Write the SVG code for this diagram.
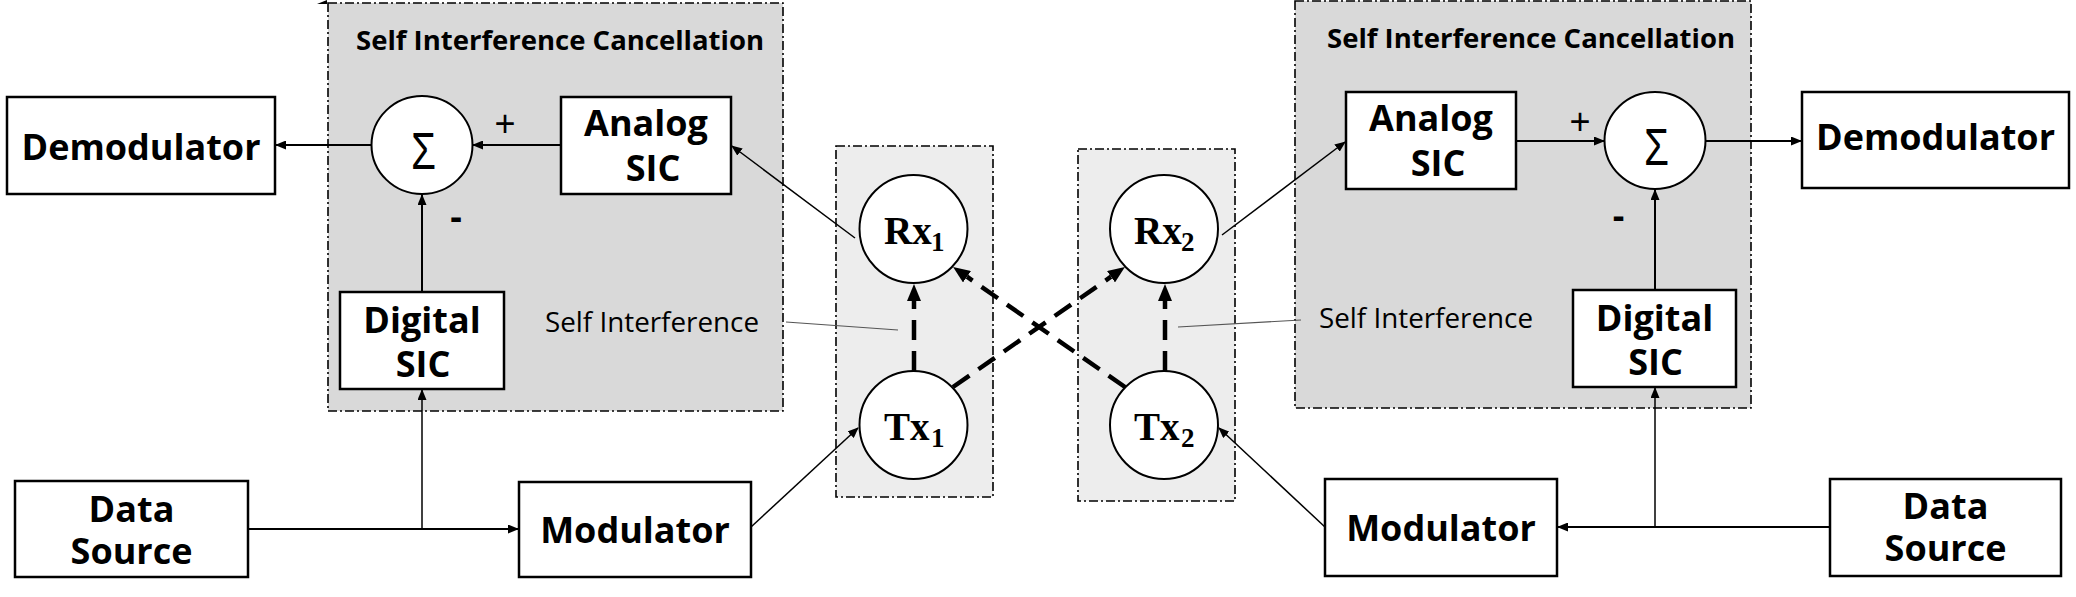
<svg xmlns="http://www.w3.org/2000/svg" width="2076" height="597" viewBox="0 0 2076 597">
<style>
.bg{fill:#ffffff}
.sic{fill:#d9d9d9;stroke:#000;stroke-width:1.6;stroke-dasharray:9 3 2 3}
.ant{fill:#ededed;stroke:#000;stroke-width:1.6;stroke-dasharray:9 3 2 3}
.box{fill:#fff;stroke:#000;stroke-width:2.5}
.circ{fill:#fff;stroke:#000;stroke-width:2}
.lbl{font-family:"Open Sans","Liberation Sans",sans-serif;font-weight:700;font-size:36px;fill:#000;text-anchor:middle}
.ttl{font-family:"Open Sans","Liberation Sans",sans-serif;font-weight:700;font-size:27px;fill:#000}
.si{font-family:"Open Sans","Liberation Sans",sans-serif;font-weight:400;font-size:27px;fill:#000}
.sig{font-family:"Liberation Sans",sans-serif;font-weight:400;font-size:52px;fill:#000}
.pm{font-family:"Liberation Sans",sans-serif;font-weight:400;font-size:36px;fill:#000;text-anchor:middle}
.mn{font-family:"Open Sans","Liberation Sans",sans-serif;font-weight:700;font-size:36px;fill:#000;text-anchor:middle}
.ant-t{font-family:"Liberation Serif",serif;font-weight:700;font-size:39px;fill:#000}
.ant-s{font-size:27px}
.c2{fill:none;stroke:#000;stroke-width:2}
.c15{fill:none;stroke:#000;stroke-width:1.5}
.dash{fill:none;stroke:#000;stroke-width:4.5;stroke-dasharray:20 11}
.lead{fill:none;stroke:#555;stroke-width:1.2}
</style>
<defs>
<marker id="arr" markerUnits="userSpaceOnUse" viewBox="0 0 11 9" refX="10" refY="4.5" markerWidth="11" markerHeight="9" orient="auto">
<path d="M0,0 L11,4.5 L0,9 z" fill="#000"/>
</marker>
<marker id="darr" markerUnits="userSpaceOnUse" viewBox="0 0 17 14" refX="0" refY="7" markerWidth="17" markerHeight="14" orient="auto">
<path d="M0,0 L17,7 L0,14 z" fill="#000"/>
</marker>
</defs>
<rect class="bg" x="0" y="0" width="2076" height="597"/>

<g id="sic-left">
<rect class="sic" x="328" y="3" width="455" height="408"/>
<text class="ttl" x="356" y="50" textLength="408" lengthAdjust="spacingAndGlyphs">Self Interference Cancellation</text>
</g>
<polygon points="317,4 327,0 327,4" fill="#000"/>
<g id="sic-right">
<rect class="sic" x="1295" y="1" width="456" height="407"/>
<text class="ttl" x="1327" y="48" textLength="408" lengthAdjust="spacingAndGlyphs">Self Interference Cancellation</text>
</g>
<g id="ant-left"><rect class="ant" x="836" y="146" width="157" height="351"/></g>
<g id="ant-right"><rect class="ant" x="1078" y="149" width="157" height="352"/></g>

<g id="connectors">
<line class="c2" x1="561" y1="145" x2="473" y2="145" marker-end="url(#arr)"/>
<line class="c2" x1="371" y1="145" x2="276" y2="145" marker-end="url(#arr)"/>
<line class="c2" x1="422" y1="292" x2="422" y2="195" marker-end="url(#arr)"/>
<line class="c2" x1="248" y1="529" x2="518" y2="529" marker-end="url(#arr)"/>
<line class="c15" x1="422" y1="529" x2="422" y2="390" marker-end="url(#arr)"/>
<line class="c15" x1="751" y1="527" x2="858" y2="428" marker-end="url(#arr)"/>
<line class="c15" x1="855" y1="238" x2="732" y2="146" marker-end="url(#arr)"/>

<line class="c2" x1="1516" y1="141" x2="1604" y2="141" marker-end="url(#arr)"/>
<line class="c2" x1="1706" y1="141" x2="1801" y2="141" marker-end="url(#arr)"/>
<line class="c2" x1="1655" y1="290" x2="1655" y2="190" marker-end="url(#arr)"/>
<line class="c2" x1="1830" y1="527" x2="1558" y2="527" marker-end="url(#arr)"/>
<line class="c15" x1="1655" y1="527" x2="1655" y2="388" marker-end="url(#arr)"/>
<line class="c15" x1="1325" y1="527" x2="1219" y2="428" marker-end="url(#arr)"/>
<line class="c15" x1="1222" y1="235" x2="1345" y2="142" marker-end="url(#arr)"/>

<line class="dash" x1="914" y1="371" x2="914" y2="301" marker-end="url(#darr)"/>
<line class="dash" x1="1165" y1="371" x2="1165" y2="301" marker-end="url(#darr)"/>
<line class="dash" x1="953" y1="387" x2="1111" y2="276.7" marker-end="url(#darr)"/>
<line class="dash" x1="1125" y1="387" x2="967" y2="276.7" marker-end="url(#darr)"/>

<line class="lead" x1="786" y1="322" x2="898" y2="330"/>
<line class="lead" x1="1178" y1="327" x2="1301" y2="320"/>
</g>

<g id="demod-left">
<rect class="box" x="7" y="97" width="268" height="97"/>
<text class="lbl" x="141" y="160">Demodulator</text>
</g>
<g id="sum-left">
<ellipse class="circ" cx="422" cy="145" rx="50.5" ry="49"/>
<text class="sig" x="411" y="169" textLength="25" lengthAdjust="spacingAndGlyphs">Σ</text>
<text class="pm" x="505" y="136">+</text>
<text class="mn" x="456" y="229">-</text>
</g>
<g id="analog-left">
<rect class="box" x="561" y="97" width="170" height="97"/>
<text class="lbl" x="646" y="136">Analog</text>
<text class="lbl" x="653" y="181">SIC</text>
</g>
<g id="digital-left">
<rect class="box" x="340" y="292" width="164" height="97"/>
<text class="lbl" x="422" y="333">Digital</text>
<text class="lbl" x="423" y="377">SIC</text>
</g>
<g id="si-label-left">
<text class="si" x="545" y="332" textLength="214" lengthAdjust="spacingAndGlyphs">Self Interference</text>
</g>
<g id="datasource-left">
<rect class="box" x="15" y="481" width="233" height="96"/>
<text class="lbl" x="131.5" y="521.5">Data</text>
<text class="lbl" x="131.5" y="563.5">Source</text>
</g>
<g id="modulator-left">
<rect class="box" x="519" y="482" width="232" height="95"/>
<text class="lbl" x="635" y="543">Modulator</text>
</g>

<g id="rx1">
<circle class="circ" cx="913.5" cy="229" r="54"/>
<text class="ant-t" x="884" y="244">Rx<tspan class="ant-s" x="931" y="251">1</tspan></text>
</g>
<g id="tx1">
<circle class="circ" cx="913.5" cy="425" r="54"/>
<text class="ant-t" x="884" y="440">Tx<tspan class="ant-s" x="931" y="447">1</tspan></text>
</g>
<g id="rx2">
<circle class="circ" cx="1164" cy="229" r="54"/>
<text class="ant-t" x="1134" y="244">Rx<tspan class="ant-s" x="1181" y="251">2</tspan></text>
</g>
<g id="tx2">
<circle class="circ" cx="1164" cy="425" r="54"/>
<text class="ant-t" x="1134" y="440">Tx<tspan class="ant-s" x="1181" y="447">2</tspan></text>
</g>

<g id="analog-right">
<rect class="box" x="1346" y="92" width="170" height="97"/>
<text class="lbl" x="1431" y="131">Analog</text>
<text class="lbl" x="1438" y="176">SIC</text>
</g>
<g id="sum-right">
<ellipse class="circ" cx="1655" cy="140.5" rx="50.5" ry="48.5"/>
<text class="sig" x="1644" y="165" textLength="25" lengthAdjust="spacingAndGlyphs">Σ</text>
<text class="pm" x="1580" y="134">+</text>
<text class="mn" x="1618.5" y="228">-</text>
</g>
<g id="demod-right">
<rect class="box" x="1802" y="92" width="267" height="96"/>
<text class="lbl" x="1935.5" y="150">Demodulator</text>
</g>
<g id="digital-right">
<rect class="box" x="1573" y="290" width="163" height="97"/>
<text class="lbl" x="1654.5" y="331">Digital</text>
<text class="lbl" x="1655.5" y="375">SIC</text>
</g>
<g id="si-label-right">
<text class="si" x="1319" y="328" textLength="214" lengthAdjust="spacingAndGlyphs">Self Interference</text>
</g>
<g id="modulator-right">
<rect class="box" x="1325" y="479" width="232" height="97"/>
<text class="lbl" x="1441" y="541">Modulator</text>
</g>
<g id="datasource-right">
<rect class="box" x="1830" y="479" width="231" height="97"/>
<text class="lbl" x="1945.5" y="518.5">Data</text>
<text class="lbl" x="1945.5" y="560.5">Source</text>
</g>
</svg>
